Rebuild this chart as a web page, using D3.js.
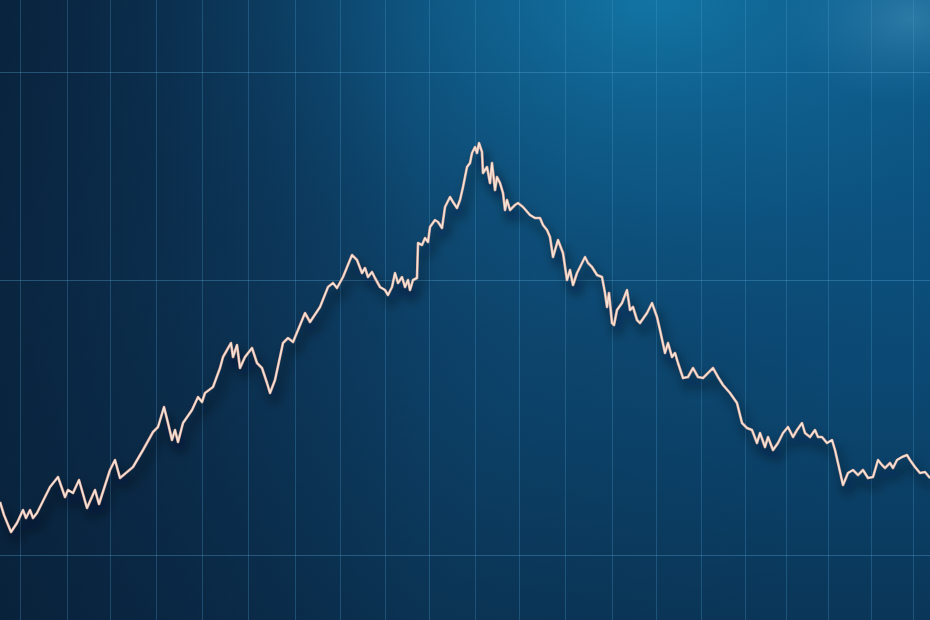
<!DOCTYPE html>
<html>
<head>
<meta charset="utf-8">
<script src="https://cdn.jsdelivr.net/npm/d3@7"></script>
<style>
html,body{margin:0;padding:0;background:#0b2a47;overflow:hidden;}
svg{display:block;}
</style>
</head>
<body>
<svg id="chart" width="930" height="620"></svg>
<script>
// ---- data ----
const days = [0,2,5.5,8.5,11.5,13,15,16.5,18.5,25,29,32.5,34,36.5,39.5,43.5,47.5,49.5,55,57.5,60,66.5,71.5,
76.5,79,82,84,86,87.5,89,91.5,96,99,101,102.5,106.5,110,111.5,113.5,115.5,116.5,118.5,120,122.5,126,128.5,131,133.5,135,137.5,141.5,144,146.5,149,152.5,
155,160,164,166.5,168.5,171.5,176,178.5,181,182.5,184,186,187.5,190,192.5,194,196,197.5,199,201,202.5,204,205,206.5,208.5,209,211,212.5,214,215,217.5,219,221,222.5,225,226.5,228.5,230,231.5,233.5,235,236,237.5,238.5,239.5,241,241.5,243.5,245,246,247.5,248.5,250,251.5,252.5,253.5,255,257.5,259,261.5,265,267.5,270,271.5,273.5,275,276.5,279,
281.5,283.5,285,286.5,288.5,290,292.5,294,296,298.5,301,302.5,303.5,304.5,306,307,308.5,311,313.5,315,316.5,318.5,320,323.5,326,328.5,330,332.5,334,336,337.5,339,341.5,344,346.5,349,351.5,354,356.5,359,361.5,365,368.5,371,373.5,376,378.5,380,382.5,384,386.5,389,391.5,394,396.5,398.5,401,402.5,405,407.5,409,411,413.5,416,417.5,419,421.5,424,426.5,429,431.5,434,436.5,439,441,442.5,445,446.5,448.5,451,453.5,455,457.5,460,462.5,465];
const prices = [43.6,41,37.6,39.4,42,40.4,42,40.4,41.4,46.6,48.6,44.6,46,45.4,48,42.4,46,43.2,50,52,48.4,50.6,54,
57.6,58.6,62.6,59.4,56,58,55.6,59.4,62,64.6,63.6,65.4,66.6,70.4,72.6,74,75.4,72.6,75,70.4,72.6,74.4,71.4,70.4,67.4,65.4,68,75.4,76.4,75.6,78,81.4,
79.6,82.6,86.6,87.4,86.4,88.6,93,92,89.4,90.4,88.6,89.6,88.4,86.6,86,85,86.6,89.4,87.4,88.6,86.6,88,86,88,88.4,95.4,95,96.4,95.6,98.6,100,99.6,98.4,102.6,104.6,103.6,102.4,104,106.6,110.6,111.4,113.4,114.6,113.4,115.4,113.6,109.4,110.6,107.4,111.4,106,108.6,107.4,105.4,102,104,102,103,103.4,102.6,101,100.4,100.4,99,98,96.6,92.6,96,
93.4,88,90,87,89.4,90.6,92.6,91.4,90.6,89,88.6,85.4,82.6,85.4,79.4,79,82,83.4,86,82,82.6,80,79.4,81.4,83.4,80.6,78,73.4,75.4,72.6,73.4,71.4,68.4,68.6,70.4,68.6,68.4,69.4,70.4,68.6,67,65.4,63.4,59.4,58.4,58,55.4,57.4,54.6,56.6,54,55.4,57.4,58.6,56.6,58,59.4,57.4,56.6,58,56.6,56.6,55.4,56,54,51.4,47,49.4,50,49,50,48.4,48.6,52,51,50.4,51.4,50.4,52,52.6,53,52,50.6,49.4,49.6,48.4];
const gridDays = [10,33.5,55,78,101,124,147.5,170,192.5,214.5,237.5,259.5,282.5,306,328,350.5,372.5,393,414,435.5,456.5];
const gridPrices = [129.6,88,33];

// ---- chart ----
const W = 930, H = 620;
const svg = d3.select("#chart");
const x = d3.scaleLinear().domain([0,465]).range([0,W]);
const y = d3.scaleLinear().domain([20,144]).range([H,0]);

const defs = svg.append("defs");
const base = defs.append("linearGradient").attr("id","base")
  .attr("x1","0").attr("y1","0").attr("x2","1").attr("y2","0.2");
[[0,"#0b2a47"],[0.35,"#0d3b60"],[0.65,"#0e4f7b"],[1,"#0c5585"]].forEach(s=>
  base.append("stop").attr("offset",s[0]).attr("stop-color",s[1]));
const glow = defs.append("radialGradient").attr("id","glow")
  .attr("cx","0.7").attr("cy","0.0").attr("r","0.65");
[[0,"#137bab",0.85],[0.5,"#0f6696",0.4],[1,"#0b3a60",0]].forEach(s=>
  glow.append("stop").attr("offset",s[0]).attr("stop-color",s[1]).attr("stop-opacity",s[2]));
const corner = defs.append("radialGradient").attr("id","corner")
  .attr("cx","0.98").attr("cy","0.03").attr("r","0.14");
[[0,"#4a96bf",0.5],[1,"#2a80ad",0]].forEach(s=>
  corner.append("stop").attr("offset",s[0]).attr("stop-color",s[1]).attr("stop-opacity",s[2]));
const bottom = defs.append("linearGradient").attr("id","bottom")
  .attr("x1","0").attr("y1","0").attr("x2","0").attr("y2","1");
[[0,"#081c33",0],[0.45,"#081c33",0.1],[1,"#081c33",0.55]].forEach(s=>
  bottom.append("stop").attr("offset",s[0]).attr("stop-color",s[1]).attr("stop-opacity",s[2]));
const left = defs.append("linearGradient").attr("id","leftdark")
  .attr("x1","0").attr("y1","0").attr("x2","1").attr("y2","0");
[[0,"#071a30",0.4],[0.45,"#071a30",0],[1,"#071a30",0]].forEach(s=>
  left.append("stop").attr("offset",s[0]).attr("stop-color",s[1]).attr("stop-opacity",s[2]));

const shadow = defs.append("filter").attr("id","shadow")
  .attr("x","-10%").attr("y","-10%").attr("width","120%").attr("height","140%");
shadow.append("feDropShadow").attr("dx",4).attr("dy",9).attr("stdDeviation",6)
  .attr("flood-color","#020a15").attr("flood-opacity",0.8);

svg.append("rect").attr("width",W).attr("height",H).attr("fill","url(#base)");
svg.append("rect").attr("width",W).attr("height",H).attr("fill","url(#glow)");
svg.append("rect").attr("width",W).attr("height",H).attr("fill","url(#corner)");
svg.append("rect").attr("width",W).attr("height",H).attr("fill","url(#leftdark)");
svg.append("rect").attr("width",W).attr("height",H).attr("fill","url(#bottom)");

// grid via axes
const gx = svg.append("g").attr("class","gridx")
  .call(d3.axisBottom(x).tickValues(gridDays).tickSize(H).tickFormat(""));
const gy = svg.append("g").attr("class","gridy")
  .call(d3.axisRight(y).tickValues(gridPrices).tickSize(W).tickFormat(""));
svg.selectAll(".gridx .domain, .gridy .domain").remove();
gx.selectAll("line").attr("stroke","#4c9ccc").attr("stroke-opacity",0.3).attr("stroke-width",1);
gy.selectAll("line").attr("stroke","#5aa8d6").attr("stroke-opacity",0.35).attr("stroke-width",1.2);

// price line
const pts = days.map((d,i)=>[d,prices[i]]);
const line = d3.line().x(d=>x(d[0])).y(d=>y(d[1])).curve(d3.curveLinear);
svg.append("path").datum(pts).attr("d",line)
  .attr("fill","none").attr("stroke","#d49d90").attr("stroke-width",2.6)
  .attr("stroke-linejoin","round").attr("filter","url(#shadow)");
svg.append("path").datum(pts).attr("d",line)
  .attr("fill","none").attr("stroke","#f5e4d8").attr("stroke-width",1.5)
  .attr("stroke-linejoin","round");
</script>
</body>
</html>
